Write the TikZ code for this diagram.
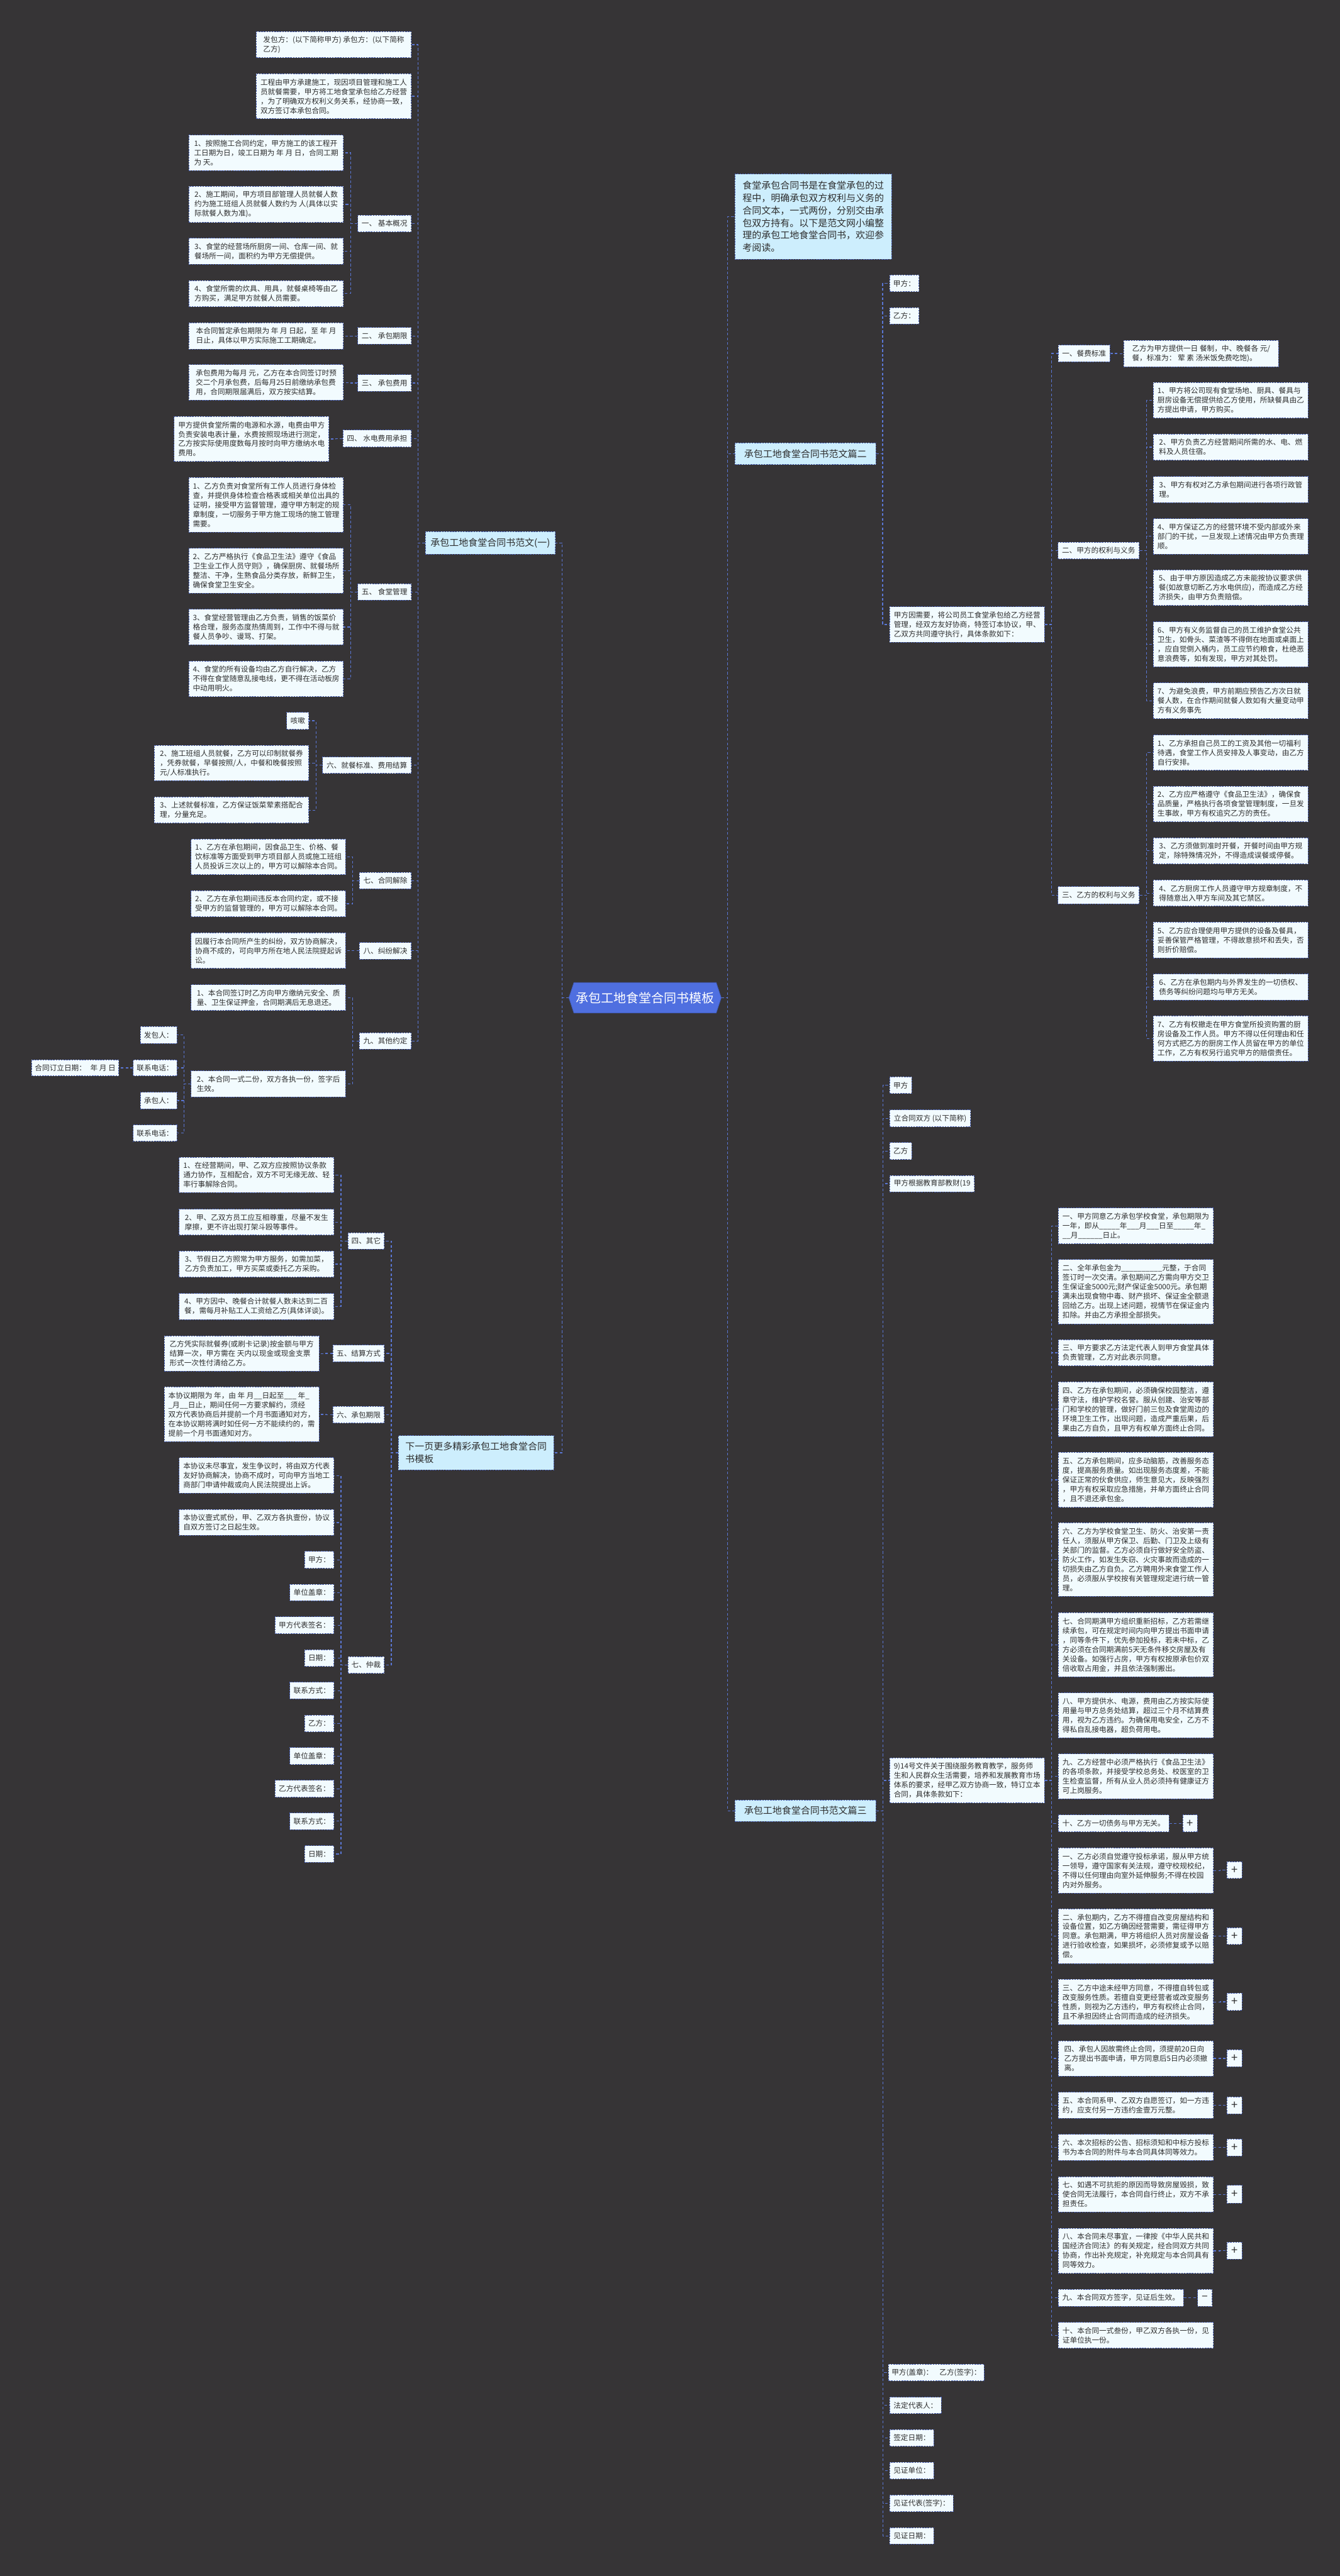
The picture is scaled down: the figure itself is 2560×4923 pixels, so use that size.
\documentclass[tikz,border=0pt]{standalone}
\usepackage{fontspec}
\setmainfont{Noto Sans CJK SC}
\usetikzlibrary{calc}
\definecolor{bgc}{HTML}{363436}
\definecolor{leaff}{HTML}{F2FBFE}
\definecolor{lblf}{HTML}{CDEEFD}
\definecolor{bordc}{HTML}{4A62B5}
\definecolor{connc}{HTML}{5A76D4}
\definecolor{cenf}{HTML}{4F6FE0}
\definecolor{txtc}{HTML}{2E2E2E}
\pgfdeclarelayer{back}\pgfdeclarelayer{bg}\pgfsetlayers{back,bg,main}
\tikzset{
 leaf/.style={draw=bordc, line width=1.1pt, dash pattern=on 3pt off 2pt, fill=leaff, text=txtc, font=\fontsize{14}{18}\selectfont, align=left, inner xsep=6pt, inner ysep=3pt},
 lbl/.style={leaf, fill=lblf, font=\fontsize{18}{24}\selectfont},
 sym/.style={leaf, font=\fontsize{22}{22}\selectfont, inner sep=0pt},
 conn/.style={draw=connc, line width=1.5pt, dash pattern=on 5pt off 4pt},
}
\newcommand\nd[7][leaf]{\node[#1,minimum width={(#5)-(#3)},minimum height={(#6)-(#4)}] (#2) at ({((#3)+(#5))/2},{((#4)+(#6))/2}) {#7};}
\newcommand\conL[3]{\draw[conn] (#1.west) -- (#1.west -| #2) |- (#3.east);}
\newcommand\conR[3]{\draw[conn] (#1.east) -- (#1.east -| #2) |- (#3.west);}
\begin{document}
\begin{tikzpicture}[x=1pt,y=-1pt]
\useasboundingbox (0,0) rectangle (2560,4923);
\begin{pgfonlayer}{back}\fill[bgc] (0,0) rectangle (2560,4923);\end{pgfonlayer}
% spines
\coordinate (sL) at (1074.3,0);\coordinate (sR) at (1390.4,0);
\coordinate (s1) at (798.6,0);\coordinate (s2) at (747.6,0);
\coordinate (sk1) at (670,0);\coordinate (sk4) at (641.6,0);
\coordinate (sk6) at (603.5,0);\coordinate (sk7) at (673.7,0);
\coordinate (sf) at (351.4,0);\coordinate (sg) at (240.8,0);
\coordinate (sm4) at (651.3,0);\coordinate (sm5) at (622.5,0);
\coordinate (q2) at (1686.3,0);\coordinate (q3) at (1687.1,0);
\coordinate (sr3) at (2009.4,0);\coordinate (st1) at (2133.7,0);
\coordinate (st2) at (2190.5,0);\coordinate (spv) at (2246.7,0);
\coordinate (spw) at (2331,0);\coordinate (spw9) at (2274.5,0);
% center
\filldraw[fill=cenf, draw=cenf!80!black, line width=1pt] (1086.8,1906.85) -- (1096.4,1877.7) -- (1368.3,1877.7) -- (1377.9,1906.85) -- (1368.3,1936) -- (1096.4,1936) -- cycle;
\node[minimum width=291.1, minimum height=58.3, inner sep=0pt, text=white, font=\fontsize{24}{28}\selectfont] (C) at (1232.35,1906.85) {承包工地食堂合同书模板};
% branch 1
\nd[lbl]{B1}{812.5}{1016}{1061}{1059}{承包工地食堂合同书范文(一)}
\nd{a1}{489.5}{60.4}{785.8}{110.4}{发包方：(以下简称甲方) 承包方：(以下简称\\乙方)}
\nd{a2}{489.5}{141}{785.8}{227}{工程由甲方承建施工，现因项目管理和施工人\\员就餐需要，甲方将工地食堂承包给乙方经营\\，为了明确双方权利义务关系，经协商一致，\\双方签订本承包合同。}
\nd{k1}{683.4}{411}{785.8}{443}{一、 基本概况}
\nd{k1a}{361}{258}{656}{326}{1、按照施工合同约定，甲方施工的该工程开\\工日期为日，竣工日期为 年 月 日，合同工期\\为 天。}
\nd{k1b}{361}{356}{656}{425}{2、施工期间，甲方项目部管理人员就餐人数\\约为施工班组人员就餐人数约为 人(具体以实\\际就餐人数为准)。}
\nd{k1c}{361}{455}{656}{505}{3、食堂的经营场所厨房一间、仓库一间、就\\餐场所一间，面积约为甲方无偿提供。}
\nd{k1d}{361}{536}{656}{586}{4、食堂所需的炊具、用具，就餐桌椅等由乙\\方购买，满足甲方就餐人员需要。}
\nd{k2}{683.4}{626}{785.8}{658}{二、 承包期限}
\nd{k2a}{361}{617}{656}{667}{本合同暂定承包期限为 年 月 日起，至 年 月\\日止，具体以甲方实际施工工期确定。}
\nd{k3}{683.4}{716}{785.8}{748}{三、 承包费用}
\nd{k3a}{361}{697}{656}{765}{承包费用为每月 元，乙方在本合同签订时预\\交二个月承包费，后每月25日前缴纳承包费\\用，合同期限届满后，双方按实结算。}
\nd{k4}{655}{822}{785.8}{854}{四、 水电费用承担}
\nd{k4a}{332.6}{796}{628.3}{882}{甲方提供食堂所需的电源和水源，电费由甲方\\负责安装电表计量，水费按照现场进行测定，\\乙方按实际使用度数每月按时向甲方缴纳水电\\费用。}
\nd{k5}{683.4}{1115.5}{785.8}{1147}{五、 食堂管理}
\nd{k5a}{361}{912.4}{656}{1017}{1、乙方负责对食堂所有工作人员进行身体检\\查，并提供身体检查合格表或相关单位出具的\\证明，接受甲方监督管理，遵守甲方制定的规\\章制度，一切服务于甲方施工现场的施工管理\\需要。}
\nd{k5b}{361}{1047.7}{656}{1133.4}{2、乙方严格执行《食品卫生法》遵守《食品\\卫生业工作人员守则》，确保厨房、就餐场所\\整洁、干净，生熟食品分类存放，新鲜卫生，\\确保食堂卫生安全。}
\nd{k5c}{361}{1164.5}{656}{1232.3}{3、食堂经营管理由乙方负责，销售的饭菜价\\格合理，服务态度热情周到，工作中不得与就\\餐人员争吵、谩骂、打架。}
\nd{k5d}{361}{1263.5}{656}{1331.3}{4、食堂的所有设备均由乙方自行解决，乙方\\不得在食堂随意乱接电线，更不得在活动板房\\中动用明火。}
\nd{k6}{616}{1447}{785.8}{1478}{六、就餐标准、费用结算}
\nd{k6a}{548}{1361.4}{590}{1393.6}{咳嗽}
\nd{k6b}{294.5}{1424.7}{590}{1492}{2、施工班组人员就餐，乙方可以印制就餐券\\，凭券就餐，早餐按照/人，中餐和晚餐按照\\元/人标准执行。}
\nd{k6c}{294.5}{1523.2}{590}{1573.2}{3、上述就餐标准，乙方保证饭菜荤素搭配合\\理，分量充足。}
\nd{k7}{686.5}{1667}{785.8}{1698.7}{七、合同解除}
\nd{k7a}{365.3}{1603.8}{660.4}{1671.6}{1、乙方在承包期间，因食品卫生、价格、餐\\饮标准等方面受到甲方项目部人员或施工班组\\人员投诉三次以上的，甲方可以解除本合同。}
\nd{k7b}{365.3}{1702.2}{660.4}{1752.2}{2、乙方在承包期间违反本合同约定，或不接\\受甲方的监督管理的，甲方可以解除本合同。}
\nd{k8}{686.5}{1801.2}{785.8}{1832.9}{八、纠纷解决}
\nd{k8a}{365.3}{1782.9}{660.4}{1850.7}{因履行本合同所产生的纠纷，双方协商解决，\\协商不成的，可向甲方所在地人民法院提起诉\\讼。}
\nd{k9}{686.5}{1973.7}{785.8}{2005.3}{九、其他约定}
\nd{k9a}{365.3}{1881.8}{660.4}{1931.3}{1、本合同签订时乙方向甲方缴纳元安全、质\\量、卫生保证押金，合同期满后无息退还。}
\nd{k9b}{365.3}{2046.6}{660.4}{2096.6}{2、本合同一式二份，双方各执一份，签字后\\生效。}
\nd{f1}{268.4}{1961.9}{338}{1994.1}{发包人：}
\nd{f2}{254.5}{2025.2}{338}{2056.3}{联系电话：}
\nd{f3}{268.4}{2087.4}{338}{2119.1}{承包人：}
\nd{f4}{254.5}{2149.7}{338}{2181.3}{联系电话：}
\nd{g1}{60.6}{2025.2}{227}{2056.3}{合同订立日期：\hspace{8pt}年 月 日}
% branch 2
\nd[lbl]{B2}{761}{2743.6}{1058}{2809.4}{下一页更多精彩承包工地食堂合同\\书模板}
\nd{m4}{664.6}{2355.8}{734.3}{2387.4}{四、其它}
\nd{m4a}{342.3}{2211.9}{638}{2279.3}{1、在经营期间，甲、乙双方应按照协议条款\\通力协作，互相配合，双方不可无缘无故、轻\\率行事解除合同。}
\nd{m4b}{342.3}{2310.9}{638}{2360.4}{2、甲、乙双方员工应互相尊重，尽量不发生\\摩擦，更不许出现打架斗殴等事件。}
\nd{m4c}{342.3}{2391}{638}{2440.5}{3、节假日乙方照常为甲方服务，如需加菜，\\乙方负责加工，甲方买菜或委托乙方采购。}
\nd{m4d}{342.3}{2472.1}{638}{2521.6}{4、甲方因中、晚餐合计就餐人数未达到二百\\餐，需每月补贴工人工资给乙方(具体详谈)。}
\nd{m5}{636}{2570.6}{734.3}{2602.2}{五、结算方式}
\nd{m5a}{313.8}{2552.8}{609.5}{2620.6}{乙方凭实际就餐券(或刷卡记录)按金额与甲方\\结算一次，甲方需在 天内以现金或现金支票\\形式一次性付清给乙方。}
\nd{m6}{636}{2688}{734.3}{2719.6}{六、承包期限}
\nd{m6a}{313.8}{2650.7}{609.5}{2755.3}{本协议期限为 年，由 年 月\_\_日起至\_\_\_ 年\_\\\_月\_\_日止，期间任何一方要求解约，须经\\双方代表协商后并提前一个月书面通知对方，\\在本协议期将满时如任何一方不能续约的，需\\提前一个月书面通知对方。}
\nd{m7}{664.6}{3166}{734.3}{3197.7}{七、仲裁}
\nd{m7a}{342.3}{2785.9}{638}{2853.8}{本协议未尽事宜，发生争议时，将由双方代表\\友好协商解决，协商不成时，可向甲方当地工\\商部门申请仲裁或向人民法院提出上诉。}
\nd{m7b}{342.3}{2884.9}{638}{2934.4}{本协议壹式贰份，甲、乙双方各执壹份，协议\\自双方签订之日起生效。}
\nd{n1}{582}{2965}{638}{2997.1}{甲方：}
\nd{n2}{553.8}{3027.8}{638}{3059.4}{单位盖章：}
\nd{n3}{525.3}{3090}{638}{3122.1}{甲方代表签名：}
\nd{n4}{582}{3152.8}{638}{3184.9}{日期：}
\nd{n5}{553.8}{3214.8}{638}{3246.9}{联系方式：}
\nd{n6}{582}{3277.5}{638}{3309.5}{乙方：}
\nd{n7}{553.8}{3339.7}{638}{3372.2}{单位盖章：}
\nd{n8}{525.3}{3402.3}{638}{3434.4}{乙方代表签名：}
\nd{n9}{553.8}{3464.5}{638}{3496.5}{联系方式：}
\nd{n10}{582}{3527}{638}{3559.2}{日期：}
% right side
\nd[lbl]{I}{1404}{332.5}{1703.6}{495.2}{食堂承包合同书是在食堂承包的过\\程中，明确承包双方权利与义务的\\合同文本，一式两份，分别交由承\\包双方持有。以下是范文网小编整\\理的承包工地食堂合同书，欢迎参\\考阅读。}
\nd[lbl]{P2}{1404}{846.7}{1673.5}{887.8}{承包工地食堂合同书范文篇二}
\nd[lbl]{P3}{1404}{3439.8}{1673.5}{3481}{承包工地食堂合同书范文篇三}
\nd{r1}{1699.8}{525.8}{1755.5}{557.3}{甲方：}
\nd{r2}{1699.8}{588}{1755.5}{619.5}{乙方：}
\nd{r3}{1700}{1159.7}{1995.2}{1227.3}{甲方因需要，将公司员工食堂承包给乙方经营\\管理，经双方友好协商，特签订本协议，甲、\\乙双方共同遵守执行，具体条款如下：}
\nd{t1}{2021.9}{659.7}{2120.5}{691.2}{一、餐费标准}
\nd{t1a}{2146.9}{650.6}{2442.6}{700.8}{乙方为甲方提供一日 餐制，中、晚餐各 元/\\餐，标准为： 荤 素 汤米饭免费吃饱)。}
\nd{t2}{2021.2}{1036.6}{2176.5}{1067.9}{二、甲方的权利与义务}
\nd{t2a}{2203.5}{731}{2499.2}{799}{1、甲方将公司现有食堂场地、厨具、餐具与\\厨房设备无偿提供给乙方使用，所缺餐具由乙\\方提出申请，甲方购买。}
\nd{t2b}{2203.5}{829.5}{2499.2}{879.7}{2、甲方负责乙方经营期间所需的水、电、燃\\料及人员住宿。}
\nd{t2c}{2203.5}{910.8}{2499.2}{960.5}{3、甲方有权对乙方承包期间进行各项行政管\\理。}
\nd{t2d}{2203.5}{991}{2499.2}{1058.9}{4、甲方保证乙方的经营环境不受内部或外来\\部门的干扰，一旦发现上述情况由甲方负责理\\顺。}
\nd{t2e}{2203.5}{1089.5}{2499.2}{1157.1}{5、由于甲方原因造成乙方未能按协议要求供\\餐(如故意切断乙方水电供应)，而造成乙方经\\济损失，由甲方负责赔偿。}
\nd{t2f}{2203.5}{1188.4}{2499.2}{1274.5}{6、甲方有义务监督自己的员工维护食堂公共\\卫生，如骨头、菜渣等不得倒在地面或桌面上\\，应自觉倒入桶内，员工应节约粮食，杜绝恶\\意浪费等，如有发现，甲方对其处罚。}
\nd{t2g}{2203.5}{1305.1}{2499.2}{1373.3}{7、为避免浪费，甲方前期应预告乙方次日就\\餐人数，在合作期间就餐人数如有大量变动甲\\方有义务事先}
\nd{t3}{2021.2}{1694.1}{2176.5}{1727.3}{三、乙方的权利与义务}
\nd{t3a}{2203.5}{1404.6}{2499.2}{1472.2}{1、乙方承担自己员工的工资及其他一切福利\\待遇，食堂工作人员安排及人事变动，由乙方\\自行安排。}
\nd{t3b}{2203.5}{1502.8}{2499.2}{1570.4}{2、乙方应严格遵守《食品卫生法》，确保食\\品质量，严格执行各项食堂管理制度，一旦发\\生事故，甲方有权追究乙方的责任。}
\nd{t3c}{2203.5}{1601}{2499.2}{1650.8}{3、乙方须做到准时开餐，开餐时间由甲方规\\定，除特殊情况外，不得造成误餐或停餐。}
\nd{t3d}{2203.5}{1682}{2499.2}{1731.8}{4、乙方厨房工作人员遵守甲方规章制度，不\\得随意出入甲方车间及其它禁区。}
\nd{t3e}{2203.5}{1762.4}{2499.2}{1830.6}{5、乙方应合理使用甲方提供的设备及餐具，\\妥善保管严格管理，不得故意损坏和丢失，否\\则折价赔偿。}
\nd{t3f}{2203.5}{1861.2}{2499.2}{1911}{6、乙方在承包期内与外界发生的一切债权、\\债务等纠纷问题均与甲方无关。}
\nd{t3g}{2203.5}{1941.6}{2499.2}{2027.7}{7、乙方有权撤走在甲方食堂所投资购置的厨\\房设备及工作人员。甲方不得以任何理由和任\\何方式把乙方的厨房工作人员留在甲方的单位\\工作，乙方有权另行追究甲方的赔偿责任。}
% part 3
\nd{u1}{1700}{2058}{1741.6}{2090}{甲方}
\nd{u2}{1700}{2121.2}{1854.2}{2153.3}{立合同双方 (以下简称)}
\nd{u3}{1700}{2183.7}{1741.6}{2215.9}{乙方}
\nd{u4}{1700}{2246.3}{1861.6}{2277.9}{甲方根据教育部教财(19}
\nd{u5}{1700}{3359.4}{1995.2}{3445.5}{9)14号文件关于围绕服务教育教学，服务师\\生和人民群众生活需要，培养和发展教育市场\\体系的要求，经甲乙双方协商一致，特订立本\\合同，具体条款如下：}
\nd{u6}{1700}{4518.4}{1877.7}{4550}{甲方(盖章)：\hspace{12pt}乙方(签字)：}
\nd{u7}{1700}{4581}{1798.5}{4612.7}{法定代表人：}
\nd{u8}{1700}{4643.1}{1784.2}{4674.8}{签定日期：}
\nd{u9}{1700}{4705.8}{1784.2}{4737.5}{见证单位：}
\nd{u10}{1700}{4767.9}{1821.4}{4800.1}{见证代表(签字)：}
\nd{u11}{1700}{4830.5}{1784.2}{4862.2}{见证日期：}
\nd{v1}{2021.8}{2308.3}{2318.1}{2377.2}{一、甲方同意乙方承包学校食堂，承包期限为\\一年，即从\_\_\_\_\_年\_\_\_月\_\_\_日至\_\_\_\_\_年\_\\\_\_月\_\_\_\_\_\_日止。}
\nd{v2}{2021.8}{2407}{2318.1}{2530}{二、全年承包金为\_\_\_\_\_\_\_\_\_\_元整，于合同\\签订时一次交清。承包期间乙方需向甲方交卫\\生保证金5000元;财产保证金5000元。承包期\\满未出现食物中毒、财产损坏、保证金全额退\\回给乙方。出现上述问题，视情节在保证金内\\扣除。并由乙方承担全部损失。}
\nd{v3}{2021.8}{2560.3}{2318.1}{2610.2}{三、甲方要求乙方法定代表人到甲方食堂具体\\负责管理，乙方对此表示同意。}
\nd{v4}{2021.8}{2640.6}{2318.1}{2745.7}{四、乙方在承包期间，必须确保校园整洁，遵\\章守法，维护学校名誉。服从创建、治安等部\\门和学校的管理，做好门前三包及食堂周边的\\环境卫生工作，出现问题，造成严重后果，后\\果由乙方自负，且甲方有权单方面终止合同。}
\nd{v5}{2021.8}{2775.5}{2318.1}{2880.6}{五、乙方承包期间，应多动脑筋，改善服务态\\度，提高服务质量。如出现服务态度差，不能\\保证正常的伙食供应，师生意见大，反映强烈\\，甲方有权采取应急措施，并单方面终止合同\\，且不退还承包金。}
\nd{v6}{2021.8}{2909.8}{2318.1}{3050.8}{六、乙方为学校食堂卫生、防火、治安第一责\\任人，须服从甲方保卫、后勤、门卫及上级有\\关部门的监督。乙方必须自行做好安全防盗、\\防火工作，如发生失窃、火灾事故而造成的一\\切损失由乙方自负。乙方聘用外来食堂工作人\\员，必须服从学校按有关管理规定进行统一管\\理。}
\nd{v7}{2021.8}{3082}{2318.1}{3204.5}{七、合同期满甲方组织重新招标，乙方若需继\\续承包，可在规定时间内向甲方提出书面申请\\，同等条件下，优先参加投标，若未中标，乙\\方必须在合同期满前5天无条件移交房屋及有\\关设备。如强行占房，甲方有权按原承包价双\\倍收取占用金，并且依法强制搬出。}
\nd{v8}{2021.8}{3235.1}{2318.1}{3321.2}{八、甲方提供水、电源，费用由乙方按实际使\\用量与甲方总务处结算，超过三个月不结算费\\用，视为乙方违约。为确保用电安全，乙方不\\得私自乱接电器，超负荷用电。}
\nd{v9}{2021.8}{3351.8}{2318.1}{3437.9}{九、乙方经营中必须严格执行《食品卫生法》\\的各项条款，并接受学校总务处、校医室的卫\\生检查监督，所有从业人员必须持有健康证方\\可上岗服务。}
\nd{v10}{2021.8}{3468.5}{2233.4}{3501}{十、乙方一切债务与甲方无关。}
\nd[sym]{pv10}{2260}{3468.5}{2287.2}{3501}{+}
\nd{w1}{2021.8}{3531.6}{2318.1}{3617.7}{一、乙方必须自觉遵守投标承诺，服从甲方统\\一领导，遵守国家有关法规，遵守校规校纪，\\不得以任何理由向室外延伸服务;不得在校园\\内对外服务。}
\nd[sym]{pw1}{2344.1}{3557.8}{2372.5}{3589.7}{+}
\nd{w2}{2021.8}{3647.7}{2318.1}{3752.3}{二、承包期内，乙方不得擅自改变房屋结构和\\设备位置，如乙方确因经营需要，需征得甲方\\同意。承包期满，甲方将组织人员对房屋设备\\进行验收检查，如果损坏，必须修复或予以赔\\偿。}
\nd[sym]{pw2}{2344.1}{3684}{2372.5}{3716}{+}
\nd{w3}{2021.8}{3782.9}{2318.1}{3869}{三、乙方中途未经甲方同意，不得擅自转包或\\改变服务性质。若擅自变更经营者或改变服务\\性质，则视为乙方违约，甲方有权终止合同，\\且不承担因终止合同而造成的经济损失。}
\nd[sym]{pw3}{2344.1}{3809}{2372.5}{3842.2}{+}
\nd{w4}{2021.8}{3900.3}{2318.1}{3967.4}{四、承包人因故需终止合同，须提前20日向\\乙方提出书面申请，甲方同意后5日内必须撤\\离。}
\nd[sym]{pw4}{2344.1}{3917.5}{2372.5}{3950}{+}
\nd{w5}{2021.8}{3998.4}{2318.1}{4048}{五、本合同系甲、乙双方自愿签订，如一方违\\约，应支付另一方违约金壹万元整。}
\nd[sym]{pw5}{2344.1}{4007.1}{2372.5}{4040}{+}
\nd{w6}{2021.8}{4079.1}{2318.1}{4128.7}{六、本次招标的公告、招标须知和中标方投标\\书为本合同的附件与本合同具体同等效力。}
\nd[sym]{pw6}{2344.1}{4087.8}{2372.5}{4120.6}{+}
\nd{w7}{2021.8}{4159.7}{2318.1}{4227.4}{七、如遇不可抗拒的原因而导致房屋毁损，致\\使合同无法履行，本合同自行终止，双方不承\\担责任。}
\nd[sym]{pw7}{2344.1}{4176.5}{2372.5}{4210.6}{+}
\nd{w8}{2021.8}{4258.4}{2318.1}{4344.7}{八、本合同未尽事宜，一律按《中华人民共和\\国经济合同法》的有关规定，经合同双方共同\\协商，作出补充规定，补充规定与本合同具有\\同等效力。}
\nd[sym]{pw8}{2344.1}{4285.1}{2372.5}{4317.4}{+}
\nd{w9}{2021.8}{4375.1}{2261.2}{4407.3}{九、本合同双方签字，见证后生效。}
\nd[sym]{pw9}{2287.8}{4375.1}{2315.6}{4407.3}{–}
\nd{w10}{2021.8}{4438.4}{2318.1}{4487.4}{十、本合同一式叁份，甲乙双方各执一份，见\\证单位执一份。}
% connectors
\begin{pgfonlayer}{bg}
\conL{C}{sL}{B1}\conL{C}{sL}{B2}
\foreach \nn in {a1,a2,k1,k2,k3,k4,k5,k6,k7,k8,k9}{\conL{B1}{s1}{\nn}}
\foreach \nn in {k1a,k1b,k1c,k1d}{\conL{k1}{sk1}{\nn}}
\conL{k2}{sk1}{k2a}\conL{k3}{sk1}{k3a}\conL{k4}{sk4}{k4a}
\foreach \nn in {k5a,k5b,k5c,k5d}{\conL{k5}{sk1}{\nn}}
\foreach \nn in {k6a,k6b,k6c}{\conL{k6}{sk6}{\nn}}
\foreach \nn in {k7a,k7b}{\conL{k7}{sk7}{\nn}}
\conL{k8}{sk7}{k8a}
\foreach \nn in {k9a,k9b}{\conL{k9}{sk7}{\nn}}
\foreach \nn in {f1,f2,f3,f4}{\conL{k9b}{sf}{\nn}}
\conL{f2}{sg}{g1}
\foreach \nn in {m4,m5,m6,m7}{\conL{B2}{s2}{\nn}}
\foreach \nn in {m4a,m4b,m4c,m4d}{\conL{m4}{sm4}{\nn}}
\conL{m5}{sm5}{m5a}\conL{m6}{sm5}{m6a}
\foreach \nn in {m7a,m7b,n1,n2,n3,n4,n5,n6,n7,n8,n9,n10}{\conL{m7}{sm4}{\nn}}
\conR{C}{sR}{I}\conR{C}{sR}{P2}\conR{C}{sR}{P3}
\foreach \nn in {r1,r2,r3}{\conR{P2}{q2}{\nn}}
\foreach \nn in {t1,t2,t3}{\conR{r3}{sr3}{\nn}}
\conR{t1}{st1}{t1a}
\foreach \nn in {t2a,t2b,t2c,t2d,t2e,t2f,t2g}{\conR{t2}{st2}{\nn}}
\foreach \nn in {t3a,t3b,t3c,t3d,t3e,t3f,t3g}{\conR{t3}{st2}{\nn}}
\foreach \nn in {u1,u2,u3,u4,u5,u6,u7,u8,u9,u10,u11}{\conR{P3}{q3}{\nn}}
\foreach \nn in {v1,v2,v3,v4,v5,v6,v7,v8,v9,v10,w1,w2,w3,w4,w5,w6,w7,w8,w9,w10}{\conR{u5}{sr3}{\nn}}
\conR{v10}{spv}{pv10}
\foreach \i in {1,...,8}{\conR{w\i}{spw}{pw\i}}
\conR{w9}{spw9}{pw9}
\end{pgfonlayer}
\end{tikzpicture}
\end{document}
